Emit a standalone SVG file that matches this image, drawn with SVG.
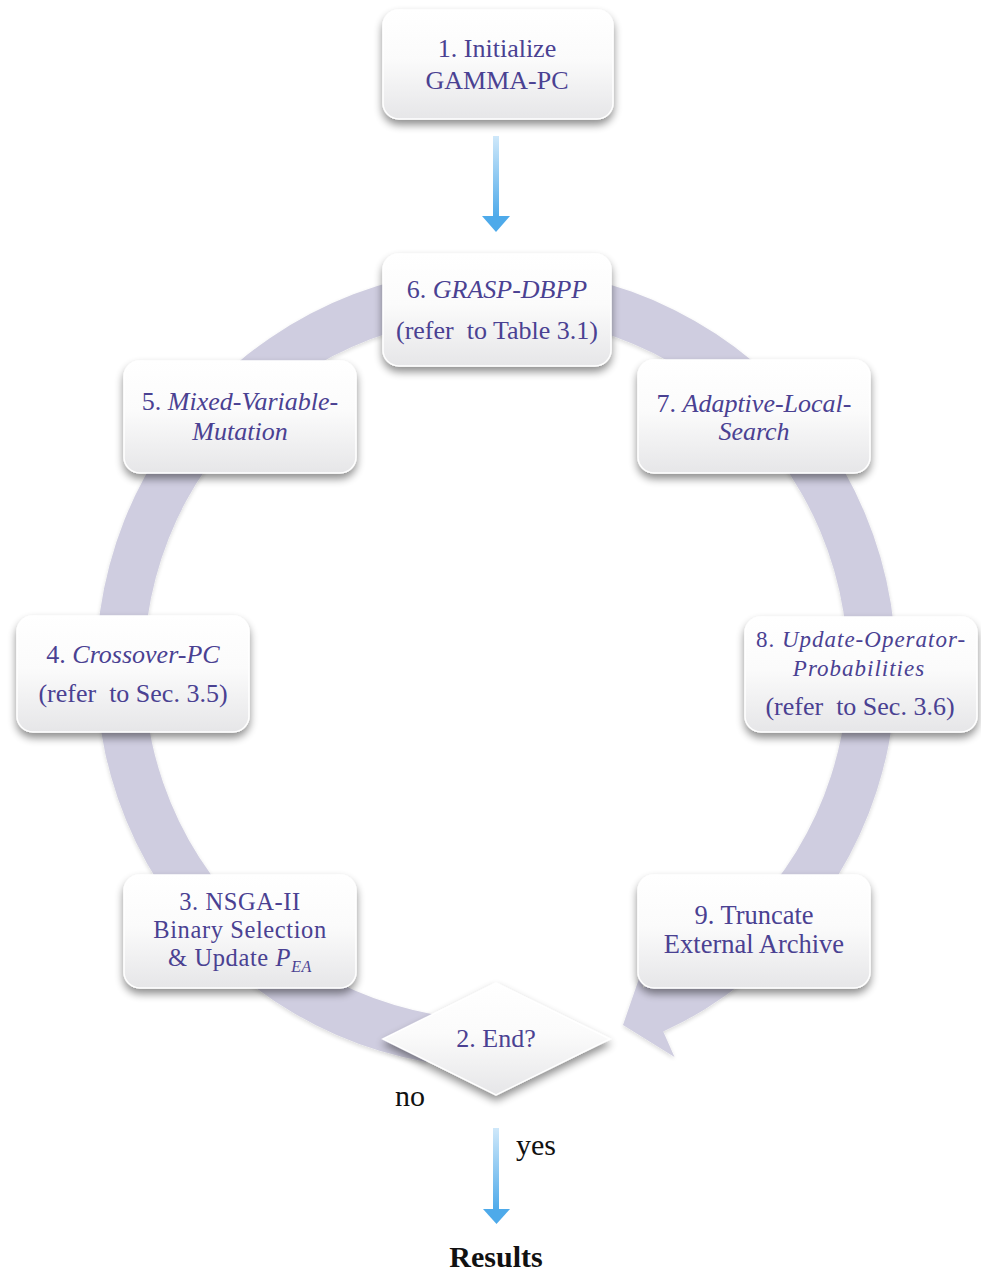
<svg xmlns="http://www.w3.org/2000/svg" width="981" height="1275" viewBox="0 0 981 1275">
  <defs>
    <linearGradient id="boxFill" x1="0" y1="0" x2="0" y2="1">
      <stop offset="0" stop-color="#ffffff"/>
      <stop offset="0.45" stop-color="#fbfbfb"/>
      <stop offset="1" stop-color="#e6e6e8"/>
    </linearGradient>
    <linearGradient id="blueShaft" x1="0" y1="0" x2="0" y2="1">
      <stop offset="0" stop-color="#cfe8fa"/>
      <stop offset="1" stop-color="#4eaaea"/>
    </linearGradient>
    <filter id="shadow" x="-20%" y="-20%" width="140%" height="150%">
      <feGaussianBlur in="SourceAlpha" stdDeviation="4"/>
      <feOffset dx="0" dy="5" result="b"/>
      <feComponentTransfer><feFuncA type="linear" slope="0.45"/></feComponentTransfer>
      <feMerge><feMergeNode/><feMergeNode in="SourceGraphic"/></feMerge>
    </filter>
    <filter id="ringShadow" x="-10%" y="-10%" width="120%" height="120%">
      <feGaussianBlur in="SourceAlpha" stdDeviation="2"/>
      <feOffset dx="0" dy="2"/>
      <feComponentTransfer><feFuncA type="linear" slope="0.15"/></feComponentTransfer>
      <feMerge><feMergeNode/><feMergeNode in="SourceGraphic"/></feMerge>
    </filter>
    <style>
      .box { fill: url(#boxFill); stroke: #ffffff; stroke-width: 1.5; filter: url(#shadow); }
      .t { font-family: "Liberation Serif", "Times New Roman", serif; font-size: 26px; fill: #4a4192; text-anchor: middle; white-space: pre; }
      .w { font-size: 26.5px; }
      .n { font-size: 24.5px; letter-spacing: 0.6px; }
      .s { font-size: 23px; letter-spacing: 1px; }
      .i { font-style: italic; }
      .k { font-family: "Liberation Serif", "Times New Roman", serif; font-size: 30px; fill: #111111; }
      .shaft { fill: url(#blueShaft); }
      .head { fill: #4eaaea; }
    </style>
  </defs>

  <!-- cycle arrow behind the steps -->
  <g id="connectors">
    <path id="cycle" fill="#cfcde0" filter="url(#ringShadow)"
      d="M426.5,1061.9 A400,400 0 1 1 663.2,1031.4 L674.5,1057 L623,1025 L642,970 L643.1,987.8 A352,352 0 1 0 434.9,1014.7 Z"/>
    <g id="arrow-start">
      <rect class="shaft" x="493" y="136" width="6" height="81"/>
      <polygon class="head" points="482,216 510,216 496,232"/>
    </g>
    <g id="arrow-yes">
      <rect class="shaft" x="493" y="1128" width="6" height="82"/>
      <polygon class="head" points="483,1209 510,1209 496.5,1224"/>
    </g>
  </g>

  <g id="node1">
    <rect class="box" x="383" y="10" width="230" height="109" rx="16"/>
    <text class="t" x="497" y="57">1. Initialize</text>
    <text class="t" x="497" y="89">GAMMA-PC</text>
  </g>

  <g id="node6">
    <rect class="box" x="383" y="254" width="228" height="112" rx="16"/>
    <text class="t" x="497" y="298">6. <tspan class="i">GRASP-DBPP</tspan></text>
    <text class="t" x="497" y="339">(refer  to Table 3.1)</text>
  </g>

  <g id="node5">
    <rect class="box" x="124" y="361" width="232" height="112" rx="16"/>
    <text class="t" x="240" y="410">5. <tspan class="i">Mixed-Variable-</tspan></text>
    <text class="t i" x="240" y="440">Mutation</text>
  </g>

  <g id="node7">
    <rect class="box" x="638" y="360" width="232" height="113" rx="16"/>
    <text class="t" x="754" y="412">7. <tspan class="i">Adaptive-Local-</tspan></text>
    <text class="t i" x="754" y="440">Search</text>
  </g>

  <g id="node4">
    <rect class="box" x="17" y="616" width="232" height="116" rx="16"/>
    <text class="t" x="133" y="663">4. <tspan class="i">Crossover-PC</tspan></text>
    <text class="t" x="133" y="702">(refer  to Sec. 3.5)</text>
  </g>

  <g id="node8">
    <rect class="box" x="745" y="617" width="232" height="115" rx="16"/>
    <text class="t s" x="861" y="647">8. <tspan class="i">Update-Operator-</tspan></text>
    <text class="t s i" x="859" y="676">Probabilities</text>
    <text class="t" x="860" y="715">(refer  to Sec. 3.6)</text>
  </g>

  <g id="node3">
    <rect class="box" x="124" y="875" width="232" height="113" rx="16"/>
    <text class="t n" x="240" y="910">3. NSGA-II</text>
    <text class="t n" x="240" y="938">Binary Selection</text>
    <text class="t n" x="240" y="966">&amp; Update <tspan class="i">P</tspan><tspan class="i" font-size="16" dy="6">EA</tspan></text>
  </g>

  <g id="node9">
    <rect class="box" x="638" y="875" width="232" height="113" rx="16"/>
    <text class="t w" x="754" y="924">9. Truncate</text>
    <text class="t w" x="754" y="953">External Archive</text>
  </g>

  <g id="node2">
    <polygon class="box" points="383,1039 496,983 610,1039 496,1095"/>
    <text class="t" x="496" y="1047">2. End?</text>
  </g>

  <g id="labels">
    <text class="k" x="395" y="1106">no</text>
    <text class="k" x="516" y="1155">yes</text>
    <text class="k" x="496" y="1267" text-anchor="middle" font-weight="bold" font-size="29">Results</text>
  </g>
</svg>
